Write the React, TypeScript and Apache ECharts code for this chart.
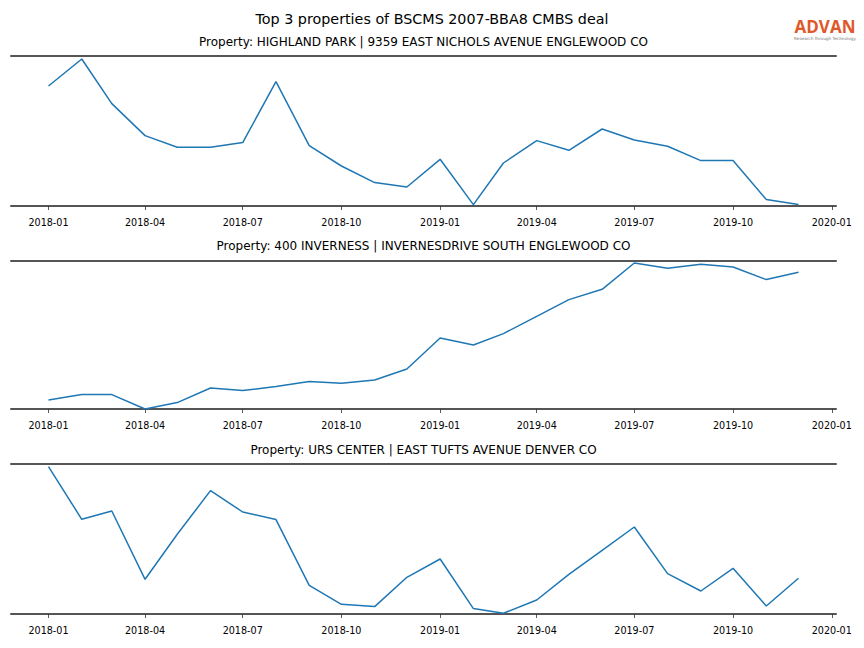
import React, { useEffect, useRef } from "react";
import * as echarts from "echarts";

const months = [
  "2018-01", "2018-02", "2018-03", "2018-04", "2018-05", "2018-06",
  "2018-07", "2018-08", "2018-09", "2018-10", "2018-11", "2018-12",
  "2019-01", "2019-02", "2019-03", "2019-04", "2019-05", "2019-06",
  "2019-07", "2019-08", "2019-09", "2019-10", "2019-11", "2019-12",
];

const tickLabels = [
  "2018-01", "2018-04", "2018-07", "2018-10",
  "2019-01", "2019-04", "2019-07", "2019-10", "2020-01",
];

const mainTitle = "Top 3 properties of BSCMS 2007-BBA8 CMBS deal";
const propertyTitles = [
  "Property: HIGHLAND PARK | 9359 EAST NICHOLS AVENUE ENGLEWOOD CO",
  "Property: 400 INVERNESS | INVERNESDRIVE SOUTH ENGLEWOOD CO",
  "Property: URS CENTER | EAST TUFTS AVENUE DENVER CO",
];

const highlandPark = [
  1200, 1470, 1024, 704, 587, 587, 634, 1244, 604, 400, 234, 190,
  467, 14, 430, 654, 557, 770, 660, 597, 454, 454, 64, 14,
];
const inverness = [
  90, 144, 144, 0, 64, 210, 184, 224, 274, 257, 290, 400,
  710, 640, 754, 927, 1094, 1197, 1460, 1407, 1447, 1420, 1294, 1367,
];
const ursCenter = [
  1474, 947, 1030, 347, 797, 1234, 1020, 944, 287, 97, 74, 367,
  550, 54, 7, 140, 397, 637, 870, 404, 230, 457, 80, 357,
];

const seriesList = [highlandPark, inverness, ursCenter];
const yMax = [1500, 1480, 1500];

const toTime = (ym: string) => {
  const [y, m] = ym.split("-").map(Number);
  return Date.UTC(y, m - 1, 1);
};

const pad2 = (n: number) => (n < 10 ? "0" + n : "" + n);

export default function App() {
  const ref = useRef<HTMLDivElement>(null);

  useEffect(() => {
    if (!ref.current) return;
    const chart = echarts.init(ref.current, null, { renderer: "svg" });

    const times = months.map(toTime);
    const t0 = times[0];
    const t1 = times[times.length - 1];
    const span = t1 - t0;
    const xMin = t0 - 0.05 * span;
    const xMax = t1 + 0.05 * span;
    const tickTimes = tickLabels.map(toTime);

    const grids = [
      { left: 11, right: 28, top: 56, height: 150 },
      { left: 11, right: 28, top: 261, height: 148 },
      { left: 11, right: 28, top: 464, height: 150 },
    ];
    const titleY = [42, 246, 450];

    const font = "DejaVu Sans";
    const spineColor = "#555555";

    const xAxes: any[] = [];
    const yAxes: any[] = [];
    const series: any[] = [];

    grids.forEach((_, i) => {
      xAxes.push({
        type: "value",
        gridIndex: i,
        min: xMin,
        max: xMax,
        axisLine: { show: true, onZero: false, lineStyle: { color: spineColor, width: 2 } },
        axisTick: {
          show: true,
          length: 4,
          customValues: tickTimes,
          lineStyle: { color: "#333", width: 0.8 },
        },
        axisLabel: {
          show: true,
          customValues: tickTimes,
          margin: 11,
          fontSize: 9.6,
          fontFamily: font,
          color: "#000",
          formatter: (v: number) => {
            const d = new Date(v);
            return d.getUTCFullYear() + "-" + pad2(d.getUTCMonth() + 1);
          },
        },
        splitLine: { show: false },
      });
      xAxes.push({
        type: "value",
        gridIndex: i,
        position: "top",
        min: 0,
        max: 1,
        axisLine: { show: true, onZero: false, lineStyle: { color: spineColor, width: 2 } },
        axisTick: { show: false },
        axisLabel: { show: false },
        splitLine: { show: false },
      });
      yAxes.push({
        type: "value",
        gridIndex: i,
        min: 0,
        max: yMax[i],
        show: false,
        splitLine: { show: false },
      });
      series.push({
        type: "line",
        xAxisIndex: i * 2,
        yAxisIndex: i,
        data: months.map((m, k) => [toTime(m), seriesList[i][k]]),
        showSymbol: false,
        symbol: "none",
        lineStyle: { color: "#1f77b4", width: 1.5 },
        silent: true,
      });
    });

    const graphics: any[] = [
      {
        type: "text",
        x: 432,
        y: 19,
        style: {
          text: mainTitle,
          fontSize: 14.3,
          fontFamily: font,
          fill: "#000",
          textAlign: "center",
          textVerticalAlign: "middle",
        },
      },
      ...propertyTitles.map((t, i) => ({
        type: "text",
        x: 423.5,
        y: titleY[i],
        style: {
          text: t,
          fontSize: 12,
          fontFamily: font,
          fill: "#000",
          textAlign: "center",
          textVerticalAlign: "middle",
        },
      })),
      {
        type: "text",
        x: 825,
        y: 26,
        style: {
          text: "ADVAN",
          fontSize: 17,
          fontWeight: "bold",
          fontFamily: "Open Sans",
          fill: "#e0582a",
          textAlign: "center",
          textVerticalAlign: "middle",
          lineHeight: 17,
        },
      },
      {
        type: "text",
        x: 825,
        y: 38.5,
        style: {
          text: "Research through Technology",
          fontSize: 4.2,
          fontFamily: "DejaVu Sans",
          fill: "#777",
          textAlign: "center",
          textVerticalAlign: "middle",
          lineHeight: 4.2,
        },
      },
    ];

    chart.setOption({
      animation: false,
      backgroundColor: "#ffffff",
      grid: grids,
      xAxis: xAxes,
      yAxis: yAxes,
      series,
      graphic: graphics,
    });

    return () => chart.dispose();
  }, []);

  return <div ref={ref} style={{ width: 864, height: 648, position: "absolute", left: 0, top: 0 }} />;
}
